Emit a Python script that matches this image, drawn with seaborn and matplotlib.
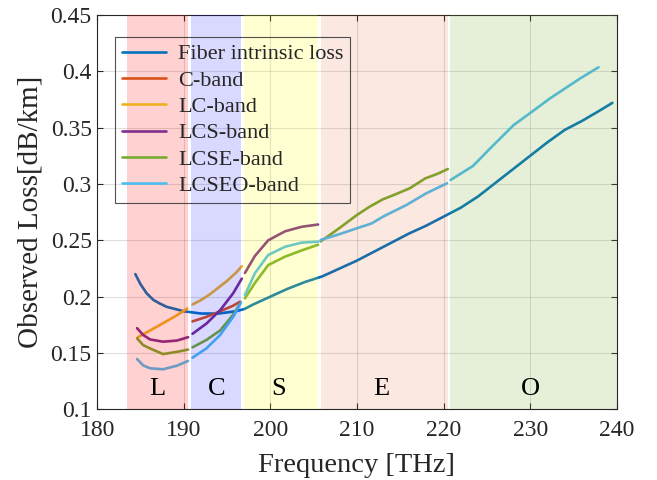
import pandas as pd
import numpy as np
import matplotlib
matplotlib.use("Agg")
import matplotlib.pyplot as plt
import seaborn as sns

sns.set_style("ticks")
plt.rcParams['font.family'] = ['Liberation Serif', 'DejaVu Serif']

# ---- data ----
fiber_f = [184.4, 185.0, 185.7, 186.5, 187.2, 188.0, 189.0, 190.0, 191.0, 192.0, 193.0, 194.0,
           195.0, 196.0, 197.0, 198.0, 200.0, 202.0, 204.0, 206.0, 208.0, 210.0, 212.0, 214.0,
           216.0, 218.0, 220.0, 222.0, 224.0, 226.0, 228.0, 230.0, 232.0, 234.0, 236.0, 238.0, 239.5]
fiber_loss = [0.220, 0.211, 0.203, 0.197, 0.194, 0.191, 0.189, 0.187, 0.186, 0.185, 0.185, 0.185,
              0.186, 0.187, 0.189, 0.193, 0.200, 0.207, 0.213, 0.218, 0.225, 0.232, 0.240, 0.248,
              0.256, 0.263, 0.271, 0.279, 0.289, 0.301, 0.313, 0.325, 0.337, 0.348, 0.356, 0.365, 0.372]

c_C_f = [191.0, 192.6, 194.2, 195.7, 196.5]
c_C_loss = [0.178, 0.182, 0.187, 0.192, 0.1955]

lc_L_f = [184.7, 186.0, 187.5, 189.0, 190.4]
lc_L_loss = [0.164, 0.1695, 0.176, 0.1825, 0.1895]
lc_C_f = [191.0, 192.0, 193.0, 194.0, 195.0, 196.0, 196.7]
lc_C_loss = [0.193, 0.197, 0.202, 0.208, 0.214, 0.221, 0.227]

lcs_L_f = [184.6, 185.3, 186.1, 187.6, 189.2, 190.5]
lcs_L_loss = [0.172, 0.166, 0.162, 0.160, 0.161, 0.164]
lcs_C_f = [191.0, 192.6, 194.2, 195.7, 196.7]
lcs_C_loss = [0.167, 0.176, 0.188, 0.203, 0.216]
lcs_S_f = [197.06, 198.2, 199.75, 201.7, 203.6, 205.5]
lcs_S_loss = [0.221, 0.236, 0.250, 0.258, 0.262, 0.264]

lcse_L_f = [184.6, 185.3, 186.1, 187.6, 189.2, 190.5]
lcse_L_loss = [0.163, 0.157, 0.154, 0.149, 0.151, 0.153]
lcse_C_f = [191.0, 192.6, 194.2, 195.7, 196.6]
lcse_C_loss = [0.155, 0.1615, 0.170, 0.184, 0.195]
lcse_S_f = [197.06, 198.2, 199.75, 201.7, 203.6, 205.5]
lcse_S_loss = [0.1985, 0.212, 0.228, 0.2355, 0.241, 0.246]
lcse_E_f = [205.8, 208.0, 210.0, 211.5, 213.0, 214.5, 216.1, 217.9, 219.3, 220.5]
lcse_E_loss = [0.249, 0.261, 0.2725, 0.280, 0.2864, 0.291, 0.2962, 0.305, 0.309, 0.3133]

lcseo_L_f = [184.6, 185.3, 186.1, 187.6, 189.2, 190.5]
lcseo_L_loss = [0.1446, 0.139, 0.1364, 0.1355, 0.1387, 0.1429]
lcseo_C_f = [191.0, 192.6, 194.2, 195.7, 196.6]
lcseo_C_loss = [0.1458, 0.154, 0.166, 0.182, 0.1946]
lcseo_S_f = [197.06, 198.2, 199.75, 201.7, 203.6, 205.5]
lcseo_S_loss = [0.2015, 0.2207, 0.237, 0.2443, 0.2479, 0.2488]
lcseo_E_f = [205.8, 208.0, 210.0, 211.7, 213.0, 215.7, 218.0, 220.4]
lcseo_E_loss = [0.2503, 0.2555, 0.2607, 0.265, 0.271, 0.2813, 0.2917, 0.3006]
lcseo_O_f = [220.8, 223.4, 225.4, 228.1, 229.8, 232.3, 235.8, 237.9]
lcseo_O_loss = [0.3035, 0.316, 0.3317, 0.3523, 0.3618, 0.376, 0.3938, 0.4036]

series_names = ['Fiber intrinsic loss', 'C-band', 'LC-band', 'LCS-band', 'LCSE-band', 'LCSEO-band']
series_colors = ['#0072BD', '#D95319', '#EDB120', '#7E2F8E', '#77AC30', '#4DBEEE']

band_names = ['L', 'C', 'S', 'E', 'O']
band_start = [183.4, 190.78, 196.97, 205.85, 220.8]
band_end = [190.45, 196.64, 205.5, 220.5, 240.0]
band_colors = ['#FF0000', '#0000FF', '#FFFF00', '#D95319', '#77AC30']
band_alpha = [0.18, 0.15, 0.18, 0.13, 0.18]
band_label_x = [186.9, 193.8, 200.9, 212.8, 230.0]

# ---- build long table, one unit per band segment ----
segments = [
    ('Fiber intrinsic loss', 'fiber', fiber_f, fiber_loss),
    ('C-band', 'c_C', c_C_f, c_C_loss),
    ('LC-band', 'lc_L', lc_L_f, lc_L_loss),
    ('LC-band', 'lc_C', lc_C_f, lc_C_loss),
    ('LCS-band', 'lcs_L', lcs_L_f, lcs_L_loss),
    ('LCS-band', 'lcs_C', lcs_C_f, lcs_C_loss),
    ('LCS-band', 'lcs_S', lcs_S_f, lcs_S_loss),
    ('LCSE-band', 'lcse_L', lcse_L_f, lcse_L_loss),
    ('LCSE-band', 'lcse_C', lcse_C_f, lcse_C_loss),
    ('LCSE-band', 'lcse_S', lcse_S_f, lcse_S_loss),
    ('LCSE-band', 'lcse_E', lcse_E_f, lcse_E_loss),
    ('LCSEO-band', 'lcseo_L', lcseo_L_f, lcseo_L_loss),
    ('LCSEO-band', 'lcseo_C', lcseo_C_f, lcseo_C_loss),
    ('LCSEO-band', 'lcseo_S', lcseo_S_f, lcseo_S_loss),
    ('LCSEO-band', 'lcseo_E', lcseo_E_f, lcseo_E_loss),
    ('LCSEO-band', 'lcseo_O', lcseo_O_f, lcseo_O_loss),
]
rows = []
for name, seg, f, loss in segments:
    for fi, li in zip(f, loss):
        rows.append({'Frequency': fi, 'Loss': li, 'Series': name, 'Segment': seg})
df = pd.DataFrame(rows)

# ---- plot ----
fig = plt.figure(figsize=(6.57, 4.8), dpi=100)
ax = fig.add_axes([0.148, 0.1473, 0.7907, 0.8215])

sns.lineplot(data=df, x='Frequency', y='Loss', hue='Series', units='Segment',
             estimator=None, hue_order=series_names, palette=series_colors,
             linewidth=1.9, sort=False, ax=ax, zorder=2)

# band shading drawn on top, semi-transparent (tints lines like the original)
for s, e, c, a in zip(band_start, band_end, band_colors, band_alpha):
    ax.axvspan(s, e, color=c, alpha=a, lw=0, zorder=3)
for name, x in zip(band_names, band_label_x):
    ax.text(x, 0.118, name, fontsize=19, ha='center', va='center', color='black', zorder=5)

ax.set_xlim(180, 240)
ax.set_ylim(0.1, 0.45)
ax.set_xticks(np.arange(180, 241, 10))
ax.set_yticks(np.arange(0.1, 0.451, 0.05))
ax.set_yticklabels(['0.1', '0.15', '0.2', '0.25', '0.3', '0.35', '0.4', '0.45'])
ax.grid(True, color='#262626', alpha=0.15, linewidth=0.8, zorder=1)
ax.set_axisbelow(True)
ax.tick_params(direction='in', length=4, width=0.8, top=True, right=True,
               labelsize=17, colors='#262626', labelcolor='#262626')
ax.tick_params(axis='x', pad=8)
ax.tick_params(axis='y', pad=4)
for sp in ax.spines.values():
    sp.set_visible(True)
    sp.set_color('#262626')
    sp.set_linewidth(0.8)

ax.set_xlabel('Frequency [THz]', fontsize=20.5, color='#262626', labelpad=8)
ax.set_ylabel('Observed Loss[dB/km]', fontsize=21, color='#262626', labelpad=5)

handles, labels = ax.get_legend_handles_labels()
leg = ax.legend(handles, labels, loc='upper left', bbox_to_anchor=(0.034, 0.944),
                borderaxespad=0, fontsize=16, frameon=True, fancybox=False,
                facecolor='none', edgecolor='#262626', handlelength=2.0,
                handletextpad=0.55, labelspacing=0.26, borderpad=0.3)
leg.get_frame().set_linewidth(0.8)
leg.set_zorder(6)

fig.savefig('out.png', dpi=100)
